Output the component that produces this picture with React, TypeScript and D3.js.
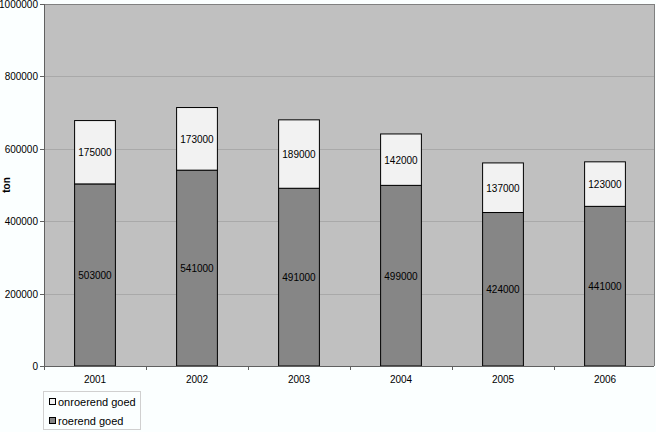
import React from "react";
import * as d3 from "d3";

const years = ["2001", "2002", "2003", "2004", "2005", "2006"];
const roerend = [503000, 541000, 491000, 499000, 424000, 441000];
const onroerend = [175000, 173000, 189000, 142000, 137000, 123000];
const yTicks = [0, 200000, 400000, 600000, 800000, 1000000];
const seriesNames = ["onroerend goed", "roerend goed"];
const seriesColors = ["#f2f2f2", "#868686"];

const W = 656, H = 432;
const left = 44, right = 654, top = 4, bottom = 366;

export default function App() {
  const x = d3.scaleBand<string>().domain(years).range([left, left + 612]).paddingInner(0.6).paddingOuter(0.3);
  const y = d3.scaleLinear().domain([0, 1000000]).range([bottom, top]);
  const step = x.step();
  const font = "Arial, 'Liberation Sans', sans-serif";
  return (
    <svg width={W} height={H} style={{ position: "absolute", left: 0, top: 0, background: "#fbffff" }} fontFamily={font}>
      <rect x={0} y={0} width={W} height={H} fill="#fbffff" />
      <rect x={left} y={top} width={right - left} height={bottom - top} fill="#c0c0c0" />
      {yTicks.slice(1, -1).map((t) => (
        <line key={t} x1={left} x2={right} y1={Math.round(y(t)) + 0.5} y2={Math.round(y(t)) + 0.5} stroke="#a9a9a9" strokeWidth={1} />
      ))}
      <line x1={left} x2={right} y1={top + 0.5} y2={top + 0.5} stroke="#808080" />
      <line x1={right + 0.5} x2={right + 0.5} y1={top} y2={bottom} stroke="#808080" />
      {years.map((yr, i) => {
        const bx = x(yr)!;
        const bw = x.bandwidth();
        const r = roerend[i];
        const o = onroerend[i];
        return (
          <g key={yr}>
            <rect x={bx} y={y(r)} width={bw} height={y(0) - y(r)} fill={seriesColors[1]} stroke="#000" strokeWidth={1} />
            <rect x={bx} y={y(r + o)} width={bw} height={y(r) - y(r + o)} fill={seriesColors[0]} stroke="#000" strokeWidth={1} />
            <text x={bx + bw / 2} y={(y(0) + y(r)) / 2 + 4} textAnchor="middle" fontSize={10} fill="#000">{r}</text>
            <text x={bx + bw / 2} y={(y(r) + y(r + o)) / 2 + 4} textAnchor="middle" fontSize={10} fill="#000">{o}</text>
            <text x={bx + bw / 2} y={383} textAnchor="middle" fontSize={10} fill="#000">{yr}</text>
          </g>
        );
      })}
      <line x1={left + 0.5} x2={left + 0.5} y1={top} y2={bottom} stroke="#606060" />
      <line x1={left} x2={right} y1={bottom + 0.5} y2={bottom + 0.5} stroke="#606060" />
      {yTicks.map((t) => (
        <g key={t}>
          <line x1={left - 4} x2={left} y1={Math.round(y(t)) + 0.5} y2={Math.round(y(t)) + 0.5} stroke="#606060" />
          <text x={left - 6} y={y(t) + 4} textAnchor="end" fontSize={10} fill="#000">{t}</text>
        </g>
      ))}
      {d3.range(years.length + 1).map((k) => (
        <line key={k} x1={left + k * step + 0.5} x2={left + k * step + 0.5} y1={bottom} y2={bottom + 4} stroke="#606060" />
      ))}
      <text transform={`translate(10,${(top + bottom) / 2}) rotate(-90)`} textAnchor="middle" fontSize={10} fontWeight="bold" fill="#000">ton</text>
      <rect x={43.5} y={391.5} width={97} height={38} fill="#fbffff" stroke="#d0d0d0" />
      {seriesNames.map((n, i) => (
        <g key={n}>
          <rect x={49.5} y={398.5 + i * 19} width={6} height={6} fill={seriesColors[i]} stroke="#000" />
          <text x={58} y={406 + i * 19} fontSize={11} fill="#000">{n}</text>
        </g>
      ))}
    </svg>
  );
}
